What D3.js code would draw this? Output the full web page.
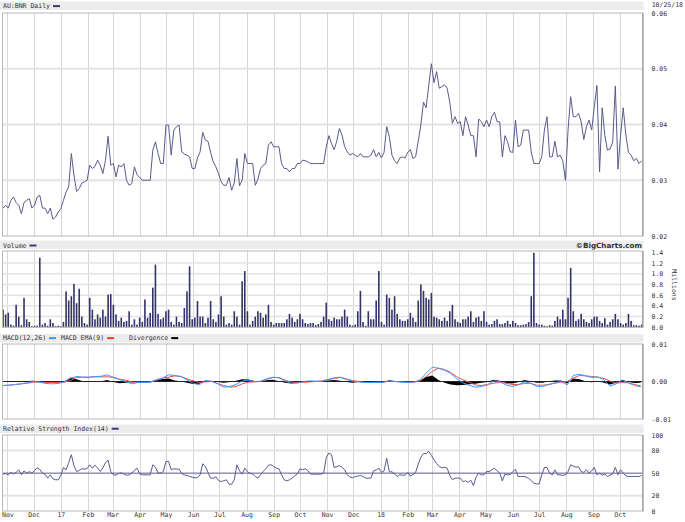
<!DOCTYPE html>
<html><head><meta charset="utf-8">
<script src="https://cdn.jsdelivr.net/npm/d3@7"></script>
<style>
html,body{margin:0;padding:0;background:#fff;}
svg{display:block;}
text{font-family:"DejaVu Sans Mono",monospace;font-size:6.5px;fill:#333;}
</style></head><body>
<svg id="chart" width="685" height="522"></svg>
<script>
// ---------- DATA ----------
const startDate = new Date(2016, 9, 27);
const endDate = new Date(2018, 9, 27);
const lastDateLabel = "10/25/18";
const symbolTitle = "AU:BNR Daily";
const dailyStepDays = 3;   // one sample every 3 calendar days
const macdStepDays = 7;    // one sample every 7 calendar days

const priceValues = [
0.0250,0.0255,0.0250,0.0264,0.0270,0.0260,0.0255,0.0240,0.0260,0.0264,
0.0267,0.0250,0.0255,0.0270,0.0273,0.0250,0.0250,0.0240,0.0250,0.0230,
0.0234,0.0243,0.0249,0.0264,0.0279,0.0288,0.0348,0.0309,0.0280,0.0285,
0.0295,0.0297,0.0300,0.0327,0.0321,0.0325,0.0336,0.0327,0.0312,0.0336,
0.0379,0.0327,0.0330,0.0306,0.0327,0.0324,0.0330,0.0300,0.0291,0.0294,
0.0324,0.0310,0.0305,0.0300,0.0300,0.0300,0.0300,0.0354,0.0369,0.0348,
0.0330,0.0330,0.0399,0.0399,0.0345,0.0390,0.0396,0.0399,0.0351,0.0347,
0.0345,0.0342,0.0321,0.0321,0.0340,0.0351,0.0386,0.0372,0.0370,0.0350,
0.0333,0.0324,0.0312,0.0297,0.0291,0.0291,0.0305,0.0282,0.0295,0.0339,
0.0290,0.0300,0.0348,0.0330,0.0330,0.0330,0.0291,0.0302,0.0321,0.0327,
0.0330,0.0363,0.0369,0.0360,0.0360,0.0360,0.0330,0.0321,0.0321,0.0315,
0.0321,0.0321,0.0330,0.0330,0.0336,0.0335,0.0333,0.0330,0.0330,0.0330,
0.0330,0.0330,0.0330,0.0360,0.0380,0.0366,0.0355,0.0370,0.0393,0.0381,
0.0360,0.0351,0.0345,0.0348,0.0345,0.0342,0.0348,0.0342,0.0342,0.0342,
0.0345,0.0355,0.0342,0.0350,0.0340,0.0350,0.0396,0.0378,0.0345,0.0335,
0.0330,0.0340,0.0342,0.0340,0.0350,0.0355,0.0339,0.0342,0.0370,0.0400,
0.0440,0.0430,0.0470,0.0509,0.0475,0.0495,0.0465,0.0468,0.0471,0.0465,
0.0440,0.0402,0.0414,0.0402,0.0405,0.0380,0.0414,0.0399,0.0380,0.0380,
0.0342,0.0410,0.0405,0.0396,0.0408,0.0396,0.0414,0.0422,0.0405,0.0405,
0.0342,0.0380,0.0369,0.0351,0.0350,0.0408,0.0360,0.0363,0.0390,0.0390,
0.0390,0.0351,0.0330,0.0330,0.0330,0.0342,0.0390,0.0414,0.0342,0.0342,
0.0370,0.0342,0.0345,0.0335,0.0300,0.0390,0.0450,0.0414,0.0414,0.0420,
0.0405,0.0373,0.0396,0.0408,0.0390,0.0432,0.0470,0.0315,0.0430,0.0380,
0.0354,0.0356,0.0369,0.0469,0.0320,0.0381,0.0430,0.0381,0.0350,0.0345,
0.0335,0.0339,0.0330,0.0335
];

const volumeValues = [ // millions of shares
0.33,0.24,0.27,0.05,0.03,0.42,0.20,0.04,0.55,0.15,
0.10,0.02,0.03,0.03,1.30,0.05,0.08,0.03,0.15,0.08,
0.02,0.03,0.02,0.10,0.67,0.50,0.58,0.81,0.45,0.72,
0.20,0.08,0.05,0.55,0.33,0.15,0.24,0.18,0.33,0.20,
0.61,0.62,0.42,0.24,0.12,0.18,0.10,0.12,0.30,0.05,
0.15,0.05,0.18,0.10,0.52,0.18,0.27,0.74,1.17,0.25,
0.15,0.18,0.30,0.33,0.10,0.05,0.20,0.10,0.08,0.36,
0.67,1.14,0.15,0.18,0.49,0.20,0.20,0.08,0.18,0.49,
0.15,0.10,0.24,0.58,0.20,0.05,0.08,0.05,0.30,0.20,
0.05,0.86,1.05,0.30,0.05,0.12,0.20,0.30,0.27,0.18,
0.24,0.42,0.10,0.05,0.08,0.08,0.08,0.08,0.15,0.25,
0.18,0.10,0.15,0.25,0.15,0.08,0.06,0.08,0.08,0.04,
0.06,0.10,0.20,0.46,0.15,0.12,0.18,0.15,0.15,0.20,
0.33,0.20,0.05,0.03,0.05,0.30,0.68,0.10,0.03,0.30,
0.15,0.15,0.50,1.05,0.10,0.05,0.61,0.55,0.33,0.58,
0.25,0.15,0.12,0.12,0.15,0.27,0.18,0.10,0.50,0.80,
0.68,0.55,0.52,0.64,0.20,0.18,0.15,0.12,0.18,0.12,
0.30,0.42,0.15,0.10,0.08,0.15,0.15,0.20,0.30,0.10,
0.18,0.20,0.12,0.30,0.10,0.05,0.06,0.12,0.15,0.06,
0.06,0.08,0.12,0.06,0.12,0.08,0.04,0.04,0.05,0.06,
0.10,0.58,1.39,0.08,0.05,0.05,0.03,0.02,0.04,0.03,
0.12,0.20,0.15,0.33,0.15,0.55,1.11,0.30,0.12,0.15,
0.25,0.15,0.10,0.08,0.15,0.20,0.20,0.12,0.08,0.17,
0.05,0.10,0.15,0.25,0.15,0.08,0.05,0.08,0.25,0.12,
0.04,0.04,0.03,0.05
];

const rsiValues = [
48.7,49.5,47.8,51.0,49.0,51.0,54.4,47.8,53.0,50.0,
52.0,50.0,53.5,57.0,55.0,50.0,48.7,43.4,47.8,42.5,
41.2,41.2,47.0,57.5,54.4,64.0,74.3,60.0,52.2,53.5,
55.8,55.3,56.0,61.0,56.6,60.6,56.6,52.2,57.0,64.0,
67.0,52.2,47.8,47.3,49.5,50.4,48.7,47.3,47.8,50.0,
53.5,56.6,49.0,47.8,47.8,47.8,47.8,61.0,58.0,50.0,
50.0,52.2,65.5,65.5,54.4,55.8,55.3,55.3,49.5,47.8,
47.0,45.6,44.7,43.8,44.2,47.8,62.4,58.8,51.0,43.4,
43.4,45.0,40.3,38.9,40.0,41.2,35.4,35.4,41.2,61.0,
53.0,48.7,56.6,51.8,50.0,48.7,45.6,43.4,47.8,52.2,
55.8,60.6,61.0,58.8,56.6,55.8,47.8,41.2,39.8,41.2,
43.4,46.5,48.7,55.8,54.4,55.8,53.5,48.7,48.7,48.7,
48.7,48.7,50.0,70.8,76.5,74.3,57.5,58.8,60.0,57.5,
54.4,47.8,45.0,43.8,45.6,46.0,47.0,45.6,43.4,43.4,
43.4,53.0,54.4,56.6,51.0,53.0,69.9,51.8,51.8,49.0,
45.6,47.8,47.3,47.3,51.0,46.0,48.2,51.0,62.0,70.8,
76.0,75.7,78.8,73.4,67.7,62.8,58.8,57.0,58.0,56.6,
47.0,41.2,43.4,43.4,43.4,38.9,39.8,38.0,40.7,33.6,
44.7,50.0,47.8,47.8,52.2,52.2,54.4,56.6,53.0,50.0,
39.8,48.7,47.8,48.2,52.2,54.9,45.6,45.6,45.6,45.0,
43.0,40.3,36.7,35.8,35.8,47.8,57.5,57.5,50.0,47.8,
54.4,47.8,47.8,47.0,47.8,52.2,61.0,59.3,58.0,58.4,
52.2,51.0,54.4,50.0,53.0,57.5,47.8,50.0,47.3,48.7,
45.6,47.3,49.0,57.5,47.8,54.4,50.0,46.5,45.6,45.6,
45.6,45.6,45.6,47.0
];

const macdValues = [
-0.00107,-0.00098,-0.00080,-0.00062,-0.00027,0.00000,-0.00018,-0.00053,-0.00062,-0.00053,
-0.00010,0.00090,0.00133,0.00115,0.00115,0.00133,0.00140,0.00178,0.00107,0.00053,
0.00000,-0.00062,-0.00027,-0.00027,-0.00027,0.00053,0.00090,0.00178,0.00160,0.00133,
0.00045,-0.00045,-0.00090,0.00027,0.00010,-0.00062,-0.00150,-0.00133,-0.00080,0.00010,
0.00036,0.00000,0.00010,0.00071,0.00115,0.00098,0.00010,-0.00045,-0.00045,0.00000,
0.00018,0.00010,0.00000,0.00053,0.00098,0.00115,0.00053,0.00010,-0.00010,-0.00027,
-0.00027,-0.00027,-0.00027,0.00027,0.00000,-0.00018,-0.00027,-0.00018,0.00045,0.00220,
0.00380,0.00355,0.00300,0.00220,0.00071,-0.00036,-0.00098,-0.00150,-0.00133,-0.00090,
0.00018,0.00000,-0.00090,-0.00133,-0.00090,-0.00010,-0.00045,-0.00124,-0.00133,-0.00080,
-0.00036,0.00000,-0.00090,0.00160,0.00195,0.00150,0.00107,0.00124,0.00045,-0.00124,
-0.00062,0.00036,-0.00036,-0.00107,-0.00142
];

const signalValues = [
-0.00107,-0.00098,-0.00080,-0.00062,-0.00045,-0.00018,-0.00018,-0.00027,-0.00027,-0.00027,
-0.00018,0.00027,0.00107,0.00115,0.00115,0.00124,0.00124,0.00124,0.00115,0.00062,
0.00036,-0.00018,-0.00018,-0.00018,-0.00010,0.00036,0.00090,0.00115,0.00150,0.00133,
0.00071,0.00018,-0.00027,-0.00010,0.00000,-0.00053,-0.00107,-0.00150,-0.00133,-0.00062,
-0.00018,-0.00010,0.00000,0.00053,0.00107,0.00107,0.00036,-0.00018,-0.00027,-0.00027,
-0.00010,0.00000,0.00018,0.00053,0.00080,0.00107,0.00071,0.00027,0.00000,-0.00027,
-0.00027,-0.00018,-0.00018,0.00010,0.00000,-0.00010,-0.00018,-0.00018,0.00018,0.00133,
0.00267,0.00355,0.00320,0.00240,0.00124,0.00045,-0.00018,-0.00090,-0.00107,-0.00080,
-0.00045,-0.00027,-0.00045,-0.00080,-0.00080,-0.00053,-0.00045,-0.00098,-0.00098,-0.00080,
-0.00045,-0.00018,0.00000,0.00090,0.00160,0.00150,0.00133,0.00115,0.00080,0.00010,
-0.00045,-0.00027,-0.00036,-0.00080,-0.00115
];

const divergenceValues = [
0.00000,0.00005,0.00005,0.00010,0.00015,0.00020,0.00000,-0.00025,-0.00030,-0.00025,
0.00010,0.00100,0.00060,0.00010,0.00000,0.00010,0.00010,0.00040,-0.00010,-0.00045,
-0.00035,-0.00020,-0.00010,-0.00010,-0.00005,0.00030,0.00070,0.00080,0.00030,0.00005,
-0.00030,-0.00065,-0.00060,0.00030,0.00010,-0.00010,-0.00030,-0.00010,0.00020,0.00060,
0.00055,0.00015,0.00010,0.00035,0.00050,0.00010,-0.00035,-0.00055,-0.00030,0.00010,
0.00010,0.00005,0.00010,0.00030,0.00040,0.00020,-0.00015,-0.00030,-0.00010,0.00000,
0.00000,0.00000,-0.00010,0.00040,0.00000,-0.00010,-0.00010,0.00000,0.00030,0.00120,
0.00160,0.00040,-0.00030,-0.00080,-0.00100,-0.00090,-0.00070,-0.00060,-0.00030,-0.00010,
0.00050,0.00020,-0.00040,-0.00050,-0.00020,0.00040,0.00010,-0.00030,-0.00030,0.00010,
0.00030,0.00025,-0.00050,0.00080,0.00060,0.00010,-0.00020,0.00010,-0.00030,-0.00080,
-0.00030,0.00050,-0.00010,-0.00040,-0.00030
];

const priceTicks = [0.02, 0.03, 0.04, 0.05, 0.06];
const volumeTicks = [0, 0.2, 0.4, 0.6, 0.8, 1.0, 1.2, 1.4];
const macdTicks = [-0.01, 0, 0.01];
const rsiTicks = [0, 20, 50, 80, 100];

// ---------- LAYOUT ----------
const svg = d3.select("#chart");
const L = 3, R = 642.5;
const panels = {
  price:  {top: 13,  bottom: 236, header: [1.5, 10], title: 8.4},
  volume: {top: 251, bottom: 327.3, header: [240.5, 249], title: 247.8},
  macd:   {top: 344, bottom: 419, header: [334, 342.5], title: 340.4},
  rsi:    {top: 435, bottom: 511, header: [424.5, 433], title: 431}
};
const navy = "#5a5a8c";
const FONT = '"DejaVu Sans Mono",monospace';

const dailyDates = priceValues.map((_, i) => d3.timeDay.offset(startDate, i * dailyStepDays));
const macdDates = macdValues.map((_, i) => d3.timeDay.offset(startDate, i * macdStepDays));

const x = d3.scaleTime().domain([startDate, endDate]).range([L, R]);
const yPrice = d3.scaleLinear().domain([0.02, 0.06]).range([panels.price.bottom, panels.price.top]);
const yVol = d3.scaleLinear().domain([0, 1.4]).range([panels.volume.bottom, 252.3]);
const yMacd = d3.scaleLinear().domain([-0.01, 0.01]).range([419, 344]);
const yRsi = d3.scaleLinear().domain([0, 100]).range([511, 435.3]);

const months = d3.timeMonth.range(new Date(2016, 10, 1), new Date(2018, 9, 2));

// header bands + plot backgrounds
Object.values(panels).forEach(p => {
  svg.append("rect").attr("x", 0).attr("y", p.header[0]).attr("width", 643.5)
    .attr("height", p.header[1] - p.header[0]).attr("fill", "#ececec");
  svg.append("rect").attr("x", L).attr("y", p.top).attr("width", R - L)
    .attr("height", p.bottom - p.top).attr("fill", "#fff");
});

// vertical month gridlines
Object.values(panels).forEach(p => {
  svg.append("g").selectAll("line").data(months).join("line")
    .attr("x1", d => Math.round(x(d)) + 0.5).attr("x2", d => Math.round(x(d)) + 0.5)
    .attr("y1", p.top).attr("y2", p.bottom)
    .attr("stroke", "#d6d6d6").attr("stroke-width", 1);
});

// horizontal gridlines
svg.append("g").selectAll("line").data([0.03, 0.04, 0.05]).join("line")
  .attr("x1", L).attr("x2", R).attr("y1", d => yPrice(d)).attr("y2", d => yPrice(d))
  .attr("stroke", "#e3e3e3").attr("stroke-width", 2);
svg.append("g").selectAll("line").data([0.2, 0.4, 0.6, 0.8, 1.0, 1.2]).join("line")
  .attr("x1", L).attr("x2", R).attr("y1", d => yVol(d)).attr("y2", d => yVol(d))
  .attr("stroke", "#e3e3e3").attr("stroke-width", 1.5);
svg.append("g").selectAll("line").data([20, 80]).join("line")
  .attr("x1", L).attr("x2", R).attr("y1", d => yRsi(d)).attr("y2", d => yRsi(d))
  .attr("stroke", "#e3e3e3").attr("stroke-width", 2);

// ---------- PRICE ----------
svg.append("path").datum(priceValues)
  .attr("fill", "none").attr("stroke", navy).attr("stroke-width", 1)
  .attr("d", d3.line().x((d, i) => x(dailyDates[i])).y(d => yPrice(d)));

// ---------- VOLUME ----------
svg.append("g").selectAll("rect").data(volumeValues).join("rect")
  .attr("x", (d, i) => x(dailyDates[i]) - 0.8)
  .attr("width", 1.6)
  .attr("y", d => yVol(d))
  .attr("height", d => yVol(0) - yVol(d))
  .attr("fill", "#33336a");

// ---------- MACD ----------
svg.append("path").datum(divergenceValues)
  .attr("fill", "#000")
  .attr("d", d3.area().x((d, i) => x(macdDates[i])).y0(yMacd(0)).y1(d => yMacd(d)));
svg.append("line").attr("x1", L).attr("x2", R).attr("y1", yMacd(0)).attr("y2", yMacd(0))
  .attr("stroke", "#222").attr("stroke-width", 1);
svg.append("path").datum(signalValues)
  .attr("fill", "none").attr("stroke", "#ee5050").attr("stroke-width", 1)
  .attr("d", d3.line().x((d, i) => x(macdDates[i])).y(d => yMacd(d)));
svg.append("path").datum(macdValues)
  .attr("fill", "none").attr("stroke", "#3f96ff").attr("stroke-width", 1)
  .attr("d", d3.line().x((d, i) => x(macdDates[i])).y(d => yMacd(d)));

// ---------- RSI ----------
svg.append("line").attr("x1", L).attr("x2", R).attr("y1", yRsi(50)).attr("y2", yRsi(50))
  .attr("stroke", navy).attr("stroke-width", 1);
svg.append("path").datum(rsiValues)
  .attr("fill", "none").attr("stroke", navy).attr("stroke-width", 1)
  .attr("d", d3.line().x((d, i) => x(dailyDates[i])).y(d => yRsi(d)));

// plot borders
Object.values(panels).forEach(p => {
  svg.append("rect").attr("x", L - 0.5).attr("y", p.top).attr("width", R - L + 0.5)
    .attr("height", p.bottom - p.top).attr("fill", "none").attr("stroke", "#b8b8b8");
  svg.append("line").attr("x1", R + 0.5).attr("x2", R + 0.5).attr("y1", p.top).attr("y2", p.bottom + 0.5)
    .attr("stroke", "#9a9a9a").attr("stroke-width", 1.2);
});

// ---------- AXES ----------
function rightAxis(scale, ticks, fmt) {
  const g = svg.append("g").attr("transform", `translate(${R},0)`)
    .call(d3.axisRight(scale).tickValues(ticks).tickSize(0).tickPadding(9).tickFormat(fmt));
  g.select(".domain").remove();
  g.selectAll("text").style("font-family", FONT).style("font-size", "6.5px").attr("fill", "#333");
}
rightAxis(yPrice, priceTicks, d3.format(".2f"));
rightAxis(yVol, volumeTicks, d3.format(".1f"));
rightAxis(yMacd, macdTicks, d => d3.format(".2f")(d).replace("\u2212", "-"));
rightAxis(yRsi, rsiTicks, d3.format("d"));

const monthFmt = d => d.getMonth() === 0 ? d3.timeFormat("%y")(d) : d3.timeFormat("%b")(d);
const xAxisG = svg.append("g").attr("transform", `translate(0,${panels.rsi.bottom})`)
  .call(d3.axisBottom(x).tickValues(months).tickSize(0).tickPadding(1.5).tickFormat(monthFmt));
xAxisG.select(".domain").remove();
xAxisG.selectAll("text").style("font-family", FONT).style("font-size", "6.5px").attr("fill", "#333");

// ---------- HEADERS / LEGENDS ----------
function label(xp, yp, txt) {
  return svg.append("text").attr("x", xp).attr("y", yp).text(txt);
}
function labelWithSwatch(xp, yp, txt, color) {
  const t = label(xp, yp, txt);
  const w = t.node().getComputedTextLength();
  svg.append("rect").attr("x", xp + w + 3).attr("y", yp - 3.3).attr("width", 7).attr("height", 2).attr("fill", color);
  return xp + w + 3 + 7;
}
labelWithSwatch(3, panels.price.title, symbolTitle, "#3c3c78");
svg.append("text").attr("x", 683).attr("y", 7).attr("text-anchor", "end").text(lastDateLabel);

labelWithSwatch(3, panels.volume.title, "Volume", "#3c3c78");
svg.append("text").attr("x", 642).attr("y", 247.8).attr("text-anchor", "end")
  .style("font-family", "Verdana, 'DejaVu Sans', sans-serif").style("font-weight", "bold")
  .style("font-size", "7.2px").attr("fill", "#50506e").text("\u00A9BigCharts.com");
svg.append("text").attr("transform", "translate(672,285) rotate(90)").attr("text-anchor", "middle")
  .text("Millions");

let nx = labelWithSwatch(3, panels.macd.title, "MACD(12,26)", "#3f96ff");
nx = labelWithSwatch(nx + 5, panels.macd.title, "MACD EMA(9)", "#ee4040");
labelWithSwatch(nx + 15, panels.macd.title, "Divergence", "#000");

labelWithSwatch(3, panels.rsi.title, "Relative Strength Index(14)", "#3c3c78");
</script>
</body></html>
